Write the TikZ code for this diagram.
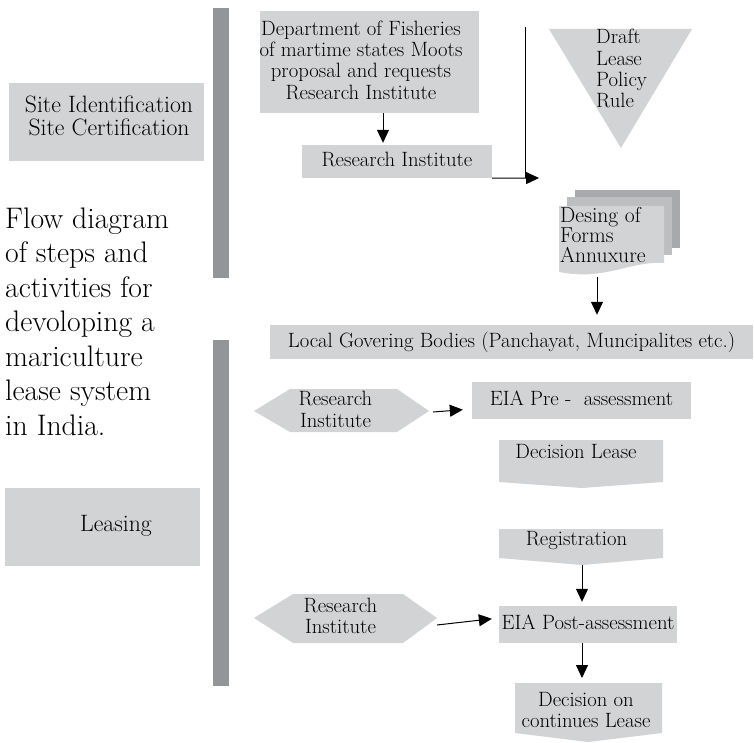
\documentclass[tikz,border=0pt]{standalone}
\usetikzlibrary{arrows.meta}
\definecolor{boxgrey}{HTML}{D1D3D4}
\definecolor{bargrey}{HTML}{939598}
\definecolor{docback}{HTML}{A7A9AC}
\definecolor{docmid}{HTML}{BCBEC0}
\begin{document}
\begin{tikzpicture}[x=1pt,y=-1pt,
		txt/.style={font=\fontsize{20.7}{21.3}\selectfont, inner sep=0pt},
		greybox/.style={txt, fill=boxgrey, align=center, text depth=4.5pt},
		arr/.style={line width=1pt, -{Triangle[length=13pt,width=12pt]}}]
		\useasboundingbox (0,0) rectangle (754,743);

		% left column
		\fill [bargrey] (213,8) rectangle (229,278);
		\fill [bargrey] (213,340) rectangle (229,686);
		\node [greybox, minimum width=195, minimum height=78] (sitebox) at (106.5,122) {};
		\node [txt, align=center, font=\fontsize{23.7}{23}\selectfont] (site) at (109,115.5) {Site Identification\\Site Certification};
		\node [txt, anchor=north west, align=left, font=\fontsize{29.7}{34.5}\selectfont] (title) at (5,207.4) {Flow diagram\\of steps and\\activities for\\devoloping a\\mariculture\\lease system\\in India.};
		\node [greybox, minimum width=195, minimum height=78] (leasingbox) at (102.5,527) {};
		\node [txt, anchor=base, font=\fontsize{23.7}{23}\selectfont] (leasing) at (116,531.1) {Leasing};

		% site steps
		\node [greybox, minimum width=219, minimum height=102] (deptbox) at (369.5,62) {};
		\node [txt, align=center] (dept) at (361,60) {Department of Fisheries\\of martime states Moots\\proposal and requests\\Research Institute};
		\node [greybox, minimum width=190, minimum height=33] (ri) at (397,161.5) {Research Institute};
		\coordinate (deptout) at ([xshift=13.5]deptbox.south);
		\draw [arr, shorten >=2pt] (deptout) -- (deptout |- ri.north);
		\coordinate (bendtop) at (525,27);
		\coordinate (bend) at (525,178);
		\coordinate (policyin) at (539,178);
		\draw [line width=1pt] (bendtop) -- (bend);
		\draw [arr] (ri.south east) -- (policyin);

		\fill [boxgrey] (549,29) -- (692,29) -- (621,148) -- cycle;
		\node [txt, anchor=north west, align=left] (draft) at (596,29.1) {Draft\\Lease\\Policy\\Rule};

		\fill [docback] (575,190) rectangle (680,248);
		\fill [docmid] (567,197) rectangle (672,255);
		\fill [boxgrey] (559,206) -- (664,206) -- (664,263) .. controls (628,261) and (606,281) .. (559,272) -- cycle;
		\node [txt, anchor=north west, align=left, font=\fontsize{21.6}{20}\selectfont] (forms) at (560,207.6) {Desing of\\Forms\\Annuxure};
		\coordinate (formsout) at (597,277);

		% leasing steps
		\node [greybox, minimum width=483, minimum height=34] (local) at (511.5,342) {Local Govering Bodies (Panchayat, Muncipalites etc.)};
		\draw [arr, shorten >=10pt] (formsout) -- (formsout |- local.north);

		\fill [boxgrey] (254,411) -- (290,389) -- (397,389) -- (429,411) -- (397,432) -- (290,432) -- cycle;
		\node [txt, align=center] (rione) at (335.5,409.5) {Research\\Institute};
		\coordinate (rioneout) at (433,412);
		\node [greybox, minimum width=219, minimum height=37.5] (preeia) at (581.5,400.5) {EIA Pre -\ \ assessment};
		\draw [arr, shorten >=9pt] (rioneout) -- ([yshift=-8.5]preeia.west);

		\fill [boxgrey] (499,440) -- (663,440) -- (663,482) -- (582,488) -- (499,482) -- cycle;
		\node [txt, anchor=base] (declease) at (576,458.5) {Decision Lease};

		\fill [boxgrey] (499,529) -- (663,529) -- (663,558) -- (582,565) -- (499,558) -- cycle;
		\node [txt, anchor=base] (reg) at (576.5,545.5) {Registration};
		\coordinate (regout) at (582,565);
		\node [greybox, minimum width=178, minimum height=37] (posteia) at (588,624.5) {EIA Post-assessment};
		\draw [arr, shorten >=4pt] (regout) -- (regout |- posteia.north);

		\fill [boxgrey] (254,618) -- (293,594) -- (403,594) -- (437,618) -- (403,643) -- (293,643) -- cycle;
		\node [txt, align=center] (ritwo) at (340.5,616) {Research\\Institute};
		\coordinate (ritwoout) at (437,625);
		\draw [arr, shorten >=7pt] (ritwoout) -- ([yshift=6.5]posteia.west);

		\fill [boxgrey] (515,683) -- (662,683) -- (662,733) -- (588,742) -- (515,733) -- cycle;
		\node [txt, align=center] (contdec) at (586,710) {Decision on\\continues Lease};
		\coordinate (postout) at (582,643);
		\coordinate (contin) at (582,683);
		\draw [arr, shorten >=5pt] (postout) -- (contin);
	\end{tikzpicture}
\end{document}
